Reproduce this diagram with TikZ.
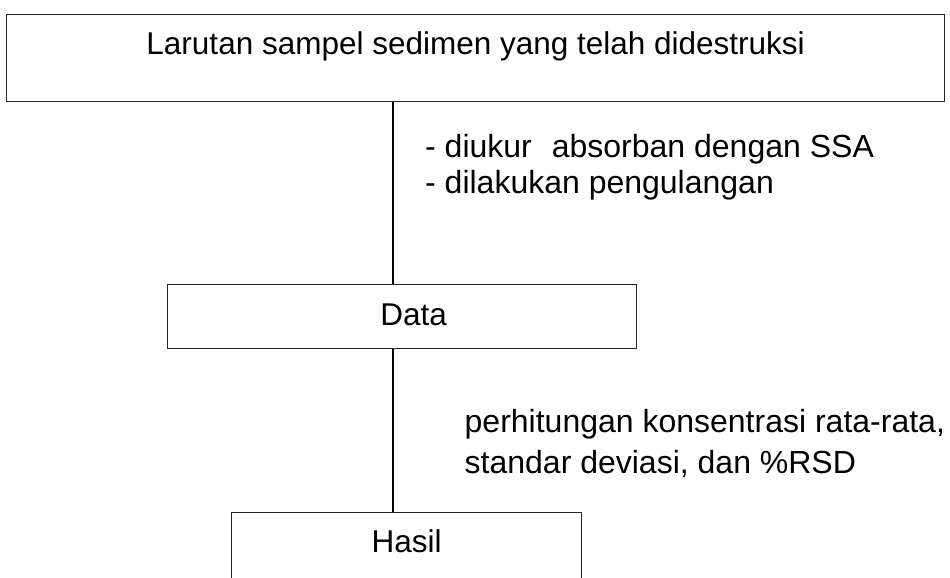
\documentclass[tikz,border=0pt]{standalone}
\usepackage{fontspec}
\setmainfont{Liberation Sans}
\begin{document}
\begin{tikzpicture}[x=1pt,y=-1pt,
  box/.style={draw=black!85, line width=1.3pt, inner xsep=0pt, inner ysep=0pt, anchor=north west,
    font=\fontsize{31.5pt}{36pt}\selectfont},
  conn/.style={draw=black, line width=2.6pt},
  lbl/.style={anchor=base west, align=left, inner sep=0pt}]
\clip (0,0) rectangle (950,578);
\fill[white] (0,0) rectangle (950,578);
\node[box, minimum width=938pt, text height=40pt, text depth=47pt] (top) at (6,14)
  {Larutan sampel sedimen yang telah didestruksi};
\node[box, minimum width=469pt, text height=41pt, text depth=23pt] (data) at (167,284)
  {\hspace*{23pt}Data};
\node[box, minimum width=350pt, text height=40pt, text depth=90pt] (hasil) at (231,512)
  {Hasil};
\coordinate (cx) at (393,0);
\draw[conn] (top.south -| cx) -- (data.north -| cx);
\draw[conn] (data.south -| cx) -- (hasil.north -| cx);
\node[lbl, font=\fontsize{32pt}{36pt}\selectfont] (l1) at (425,193)
  {- diukur\hspace{20pt}absorban dengan SSA\\- dilakukan pengulangan};
\node[lbl, font=\fontsize{32pt}{41pt}\selectfont] (l2) at (464.5,473.5)
  {perhitungan konsentrasi rata-rata,\\standar deviasi, dan \%RSD};
\end{tikzpicture}
\end{document}
